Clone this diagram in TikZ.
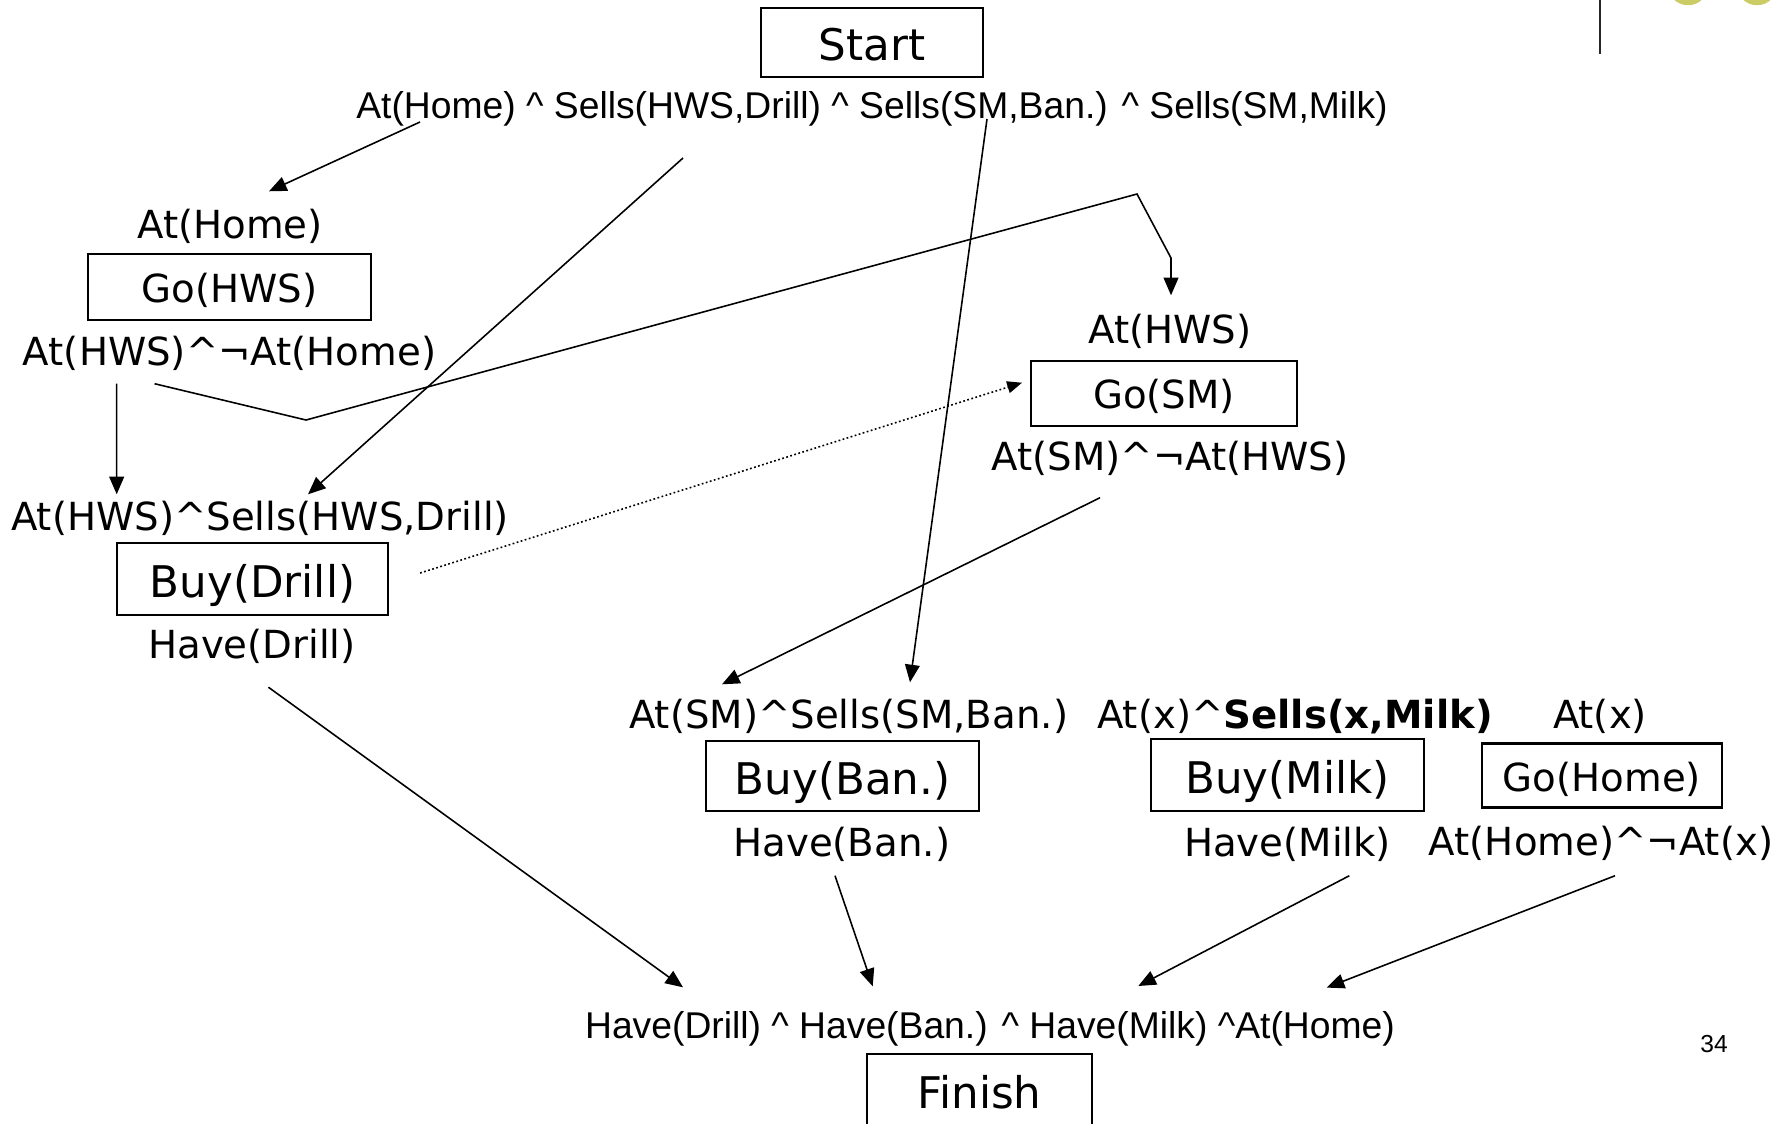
\documentclass[tikz,border=0pt]{standalone}
\usepackage{fontspec}
\setmainfont{DejaVu Sans}
\newfontfamily\arialfont{Liberation Sans}
\usetikzlibrary{arrows.meta}
\definecolor{dotolive}{RGB}{204,204,102}

\begin{document}
\begin{tikzpicture}[x=0.01cm, y=-0.01cm,
	cond/.style={inner sep=0pt, anchor=base, text height=0.29cm, text depth=0.08cm, font=\fontsize{11}{13}\selectfont},
	fact/.style={inner sep=0pt, anchor=base, text height=0.28cm, text depth=0.08cm, font=\arialfont\fontsize{10.6}{13}\selectfont},
	act/.style={draw, line width=0.6pt, inner sep=0pt, text height=0.36cm, text depth=0cm, font=\fontsize{12.4}{14}\selectfont},
	smallact/.style={act, text height=0.31cm, font=\fontsize{11}{13}\selectfont},
	arr/.style={line width=0.45pt, -{Triangle[length=5pt,width=4.2pt]}},
	link/.style={line width=0.45pt, dash pattern=on 0.5pt off 0.7pt, -{Triangle[length=4.2pt,width=3.4pt]}}]
			%%%%% START %%%%%
			\useasboundingbox (0,0) rectangle (1791,1123);
			\clip (0,0) rectangle (1791,1123);
			\fill[white] (0,0) rectangle (1791,1123);
			
			% slide corner
			\fill[dotolive] (1688,-15) circle (0.202cm);
			\fill[dotolive] (1757,-15) circle (0.202cm);
			\draw[line width=0.57pt, black!85] (1600,0) -- (1600,54);
			
			% start
			\node[act, minimum width=2.22cm, minimum height=0.69cm] (start) at (872,42.5) {Start};
			\node[fact] (init) at (872,118.3) {At(Home) \textasciicircum{} Sells(HWS,Drill) \textasciicircum{} Sells(SM,Ban.) \textasciicircum{} Sells(SM,Milk)};
			\coordinate (tap-home) at (420,122);
			\coordinate (tap-drill) at (683,158);
			\coordinate (tap-ban) at (987,119);
			
			% go(hws)
			\node[cond] (pre-gohws) at (230,238) {At(Home)};
			\node[smallact, minimum width=2.83cm, minimum height=0.655cm] (gohws) at (229.5,286.8) {Go(HWS)};
			\node[cond] (eff-gohws) at (229.6,365) {At(HWS)\textasciicircum¬At(Home)};
			
			% buy(drill)
			\node[cond] (pre-drill) at (260,530) {At(HWS)\textasciicircum Sells(HWS,Drill)};
			\node[act, minimum width=2.717cm, minimum height=0.717cm] (drill) at (252.5,579) {Buy(Drill)};
			\node[cond] (eff-drill) at (252,658) {Have(Drill)};
			
			% go(sm)
			\node[cond] (pre-gosm) at (1170,343) {At(HWS)};
			\node[smallact, minimum width=2.65cm, minimum height=0.647cm] (gosm) at (1164,393.3) {Go(SM)};
			\node[cond] (eff-gosm) at (1170,470) {At(SM)\textasciicircum¬At(HWS)};
			
			% buy(ban.)
			\node[cond] (pre-ban) at (848.6,728) {At(SM)\textasciicircum Sells(SM,Ban.)};
			\node[act, minimum width=2.73cm, minimum height=0.70cm] (ban) at (842.5,776) {Buy(Ban.)};
			\node[cond] (eff-ban) at (841.7,856) {Have(Ban.)};
			
			% buy(milk)
			\node[cond] (pre-milk) at (1295,728) {At(x)\textasciicircum\textbf{Sells(x,Milk)}};
			\node[act, minimum width=2.73cm, minimum height=0.72cm] (milk) at (1287.5,775) {Buy(Milk)};
			\node[cond] (eff-milk) at (1287.5,856) {Have(Milk)};
			
			% go(home)
			\node[cond] (pre-gohome) at (1600,728) {At(x)};
			\node[smallact, minimum width=2.40cm, minimum height=0.64cm] (gohome) at (1602,775.5) {Go(Home)};
			\node[cond] (eff-gohome) at (1601,855) {At(Home)\textasciicircum¬At(x)};
			
			% finish
			\node[fact] (goal) at (990,1038.3) {Have(Drill) \textasciicircum{} Have(Ban.) \textasciicircum{} Have(Milk) \textasciicircum At(Home)};
			\node[act, text height=0.33cm, minimum width=2.25cm, minimum height=0.76cm] (finish) at (979.5,1092) {Finish};
			\node[font=\arialfont\fontsize{7}{8}\selectfont, inner sep=0pt, anchor=base] (pagenum) at (1714,1052) {34};
			
			% causal links
			\draw[arr] (tap-home) -- ([shift={(39,-17)}]pre-gohws.north);
			\draw[arr] (tap-drill) -- ([shift={(48,-6)}]pre-drill.north);
			\draw[arr] (tap-ban) -- ([shift={(61.4,-16)}]pre-ban.north);
			\draw[arr] ([shift={(-113,10)}]eff-gohws.south) -- ([shift={(-143.3,-6)}]pre-drill.north);
			\draw[arr] ([shift={(-75,10)}]eff-gohws.south) -- (306,420) -- (1137,194) -- (1171,258) -- ([shift={(1,-18)}]pre-gosm.north);
			\draw[link] ([shift={(30.6,-6)}]drill.east) -- ([shift={(-8.4,-10.6)}]gosm.west);
			\draw[arr] ([shift={(-70,19)}]eff-gosm.south) -- ([shift={(-126.6,-14)}]pre-ban.north);
			\draw[arr] ([shift={(16.4,20.5)}]eff-drill.south) -- ([shift={(-307,-22.3)}]goal.north);
			\draw[arr] ([shift={(-6.7,11)}]eff-ban.south) -- ([shift={(-117.3,-23.3)}]goal.north);
			\draw[arr] ([shift={(61.8,11)}]eff-milk.south) -- ([shift={(148.3,-23.6)}]goal.north);
			\draw[arr] ([shift={(14,12)}]eff-gohome.south) -- ([shift={(336.7,-22)}]goal.north);
			%%%%% END %%%%%
\end{tikzpicture}
\end{document}
